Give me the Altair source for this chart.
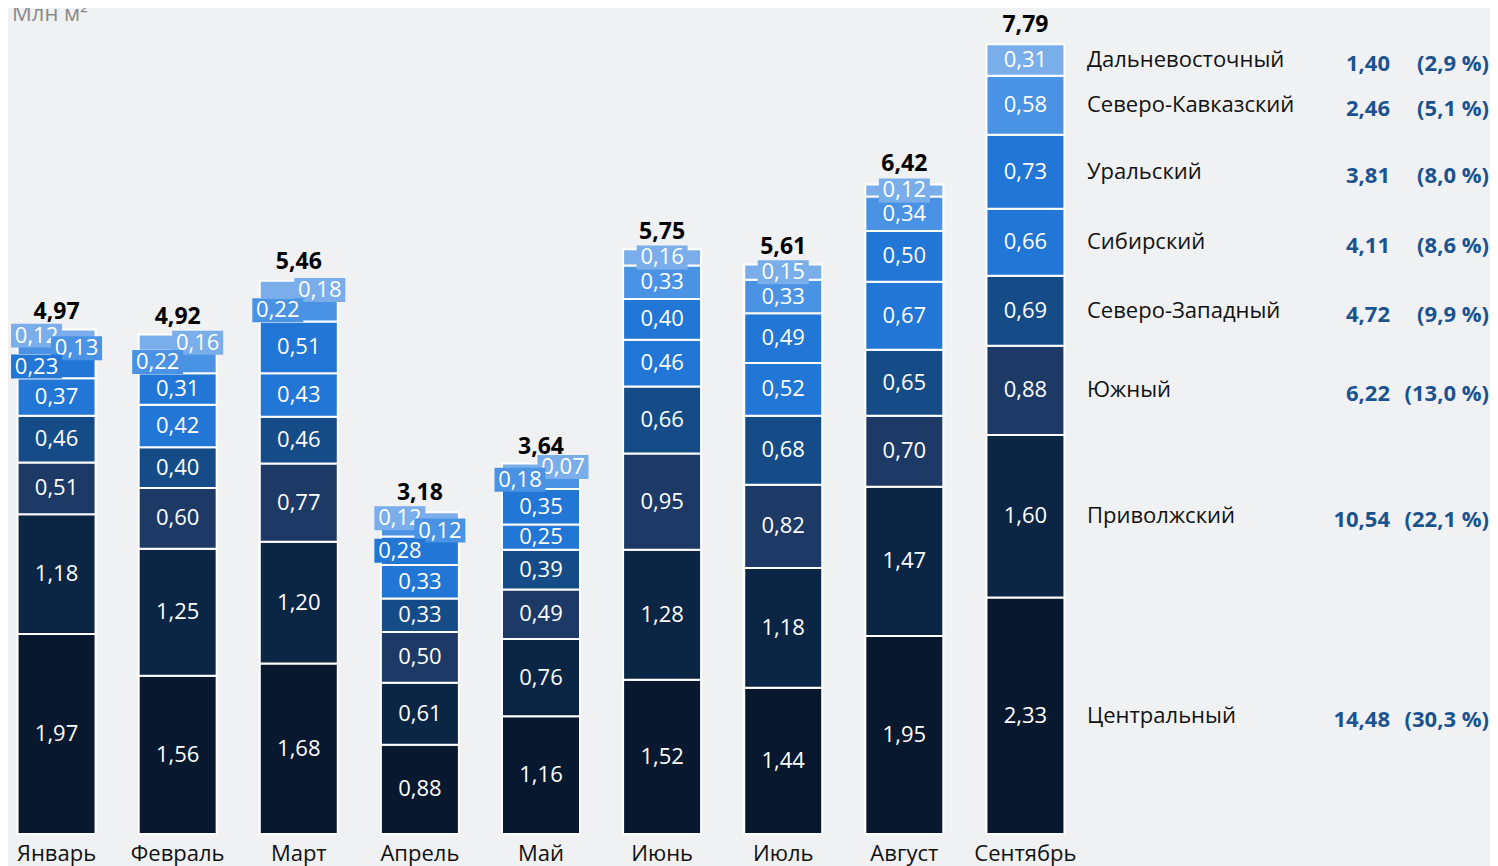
import altair as alt
import pandas as pd

MONTHS = ["Январь", "Февраль", "Март", "Апрель", "Май", "Июнь", "Июль", "Август", "Сентябрь"]
REGIONS = ["Центральный", "Приволжский", "Южный", "Северо-Западный", "Сибирский",
           "Уральский", "Северо-Кавказский", "Дальневосточный"]
COLORS = ["#08182E", "#0B2545", "#1D3966", "#154C88", "#2176D6", "#2176D6", "#4A93E4", "#7AAEEB"]

CENTRAL = [1.97, 1.56, 1.68, 0.88, 1.16, 1.52, 1.44, 1.95, 2.33]
VOLGA = [1.18, 1.25, 1.20, 0.61, 0.76, 1.28, 1.18, 1.47, 1.60]
SOUTH = [0.51, 0.60, 0.77, 0.50, 0.49, 0.95, 0.82, 0.70, 0.88]
NORTHWEST = [0.46, 0.40, 0.46, 0.33, 0.39, 0.66, 0.68, 0.65, 0.69]
SIBERIA = [0.37, 0.42, 0.43, 0.33, 0.25, 0.46, 0.52, 0.67, 0.66]
URAL = [0.23, 0.31, 0.51, 0.28, 0.35, 0.40, 0.49, 0.50, 0.73]
NCAUCASUS = [0.13, 0.22, 0.22, 0.12, 0.18, 0.33, 0.33, 0.34, 0.58]
FAREAST = [0.12, 0.16, 0.18, 0.12, 0.07, 0.16, 0.15, 0.12, 0.31]

TOTALS = [4.97, 4.92, 5.46, 3.18, 3.64, 5.75, 5.61, 6.42, 7.79]
REGION_TOTALS = [14.48, 10.54, 6.22, 4.72, 4.11, 3.81, 2.46, 1.40]
REGION_SHARES = [30.3, 22.1, 13.0, 9.9, 8.6, 8.0, 5.1, 2.9]

SERIES = [CENTRAL, VOLGA, SOUTH, NORTHWEST, SIBERIA, URAL, NCAUCASUS, FAREAST]

# small-segment labels drawn in a coloured box (horizontal shift in px)
BOXED = {
    ("Январь", "Дальневосточный"): -20, ("Январь", "Северо-Кавказский"): 20, ("Январь", "Уральский"): -20,
    ("Февраль", "Северо-Кавказский"): -20, ("Февраль", "Дальневосточный"): 20,
    ("Март", "Северо-Кавказский"): -21, ("Март", "Дальневосточный"): 21,
    ("Апрель", "Дальневосточный"): -20, ("Апрель", "Северо-Кавказский"): 20, ("Апрель", "Уральский"): -20,
    ("Май", "Северо-Кавказский"): -21, ("Май", "Дальневосточный"): 22,
    ("Июнь", "Дальневосточный"): 0, ("Июль", "Дальневосточный"): 0, ("Август", "Дальневосточный"): 0,
}
HALF_BAND = 39


def fmt(v, d=2):
    return f"{v:.{d}f}".replace(".", ",")


rows = []
for mi, m in enumerate(MONTHS):
    base = 0.0
    for r, s in zip(REGIONS, SERIES):
        v = s[mi]
        key = (m, r)
        rows.append(dict(month=m, region=r, value=v, y0=base, y1=base + v, mid=base + v / 2,
                         label=fmt(v), boxed=key in BOXED, xo=BOXED.get(key, 0) + HALF_BAND))
        base += v
df = pd.DataFrame(rows)

tot_df = pd.DataFrame({"month": MONTHS, "total": TOTALS, "label": [fmt(t) for t in TOTALS]})

sep = df[df["month"] == "Сентябрь"]
leg_df = pd.DataFrame({
    "region": REGIONS,
    "mid": list(sep["mid"]),
    "val": [fmt(v) for v in REGION_TOTALS],
    "pct": ["(" + fmt(p, 1) + " %)" for p in REGION_SHARES],
})

FONT = "Open Sans"
H = 826
YMAX = H / 101.5

x_enc = alt.X("month:N", sort=MONTHS,
              scale=alt.Scale(domain=MONTHS, range=[0, 1066], paddingInner=0.356, paddingOuter=0.079),
              axis=alt.Axis(title=None, domain=False, ticks=False, labelAngle=0, labelFontSize=22,
                            labelColor="#111111", labelFont=FONT, labelPadding=9))
y_scale = alt.Scale(domain=[0, YMAX], nice=False, zero=True)
color_enc = alt.Color("region:N", scale=alt.Scale(domain=REGIONS, range=COLORS), legend=None)

bars = alt.Chart(df).mark_bar(stroke="white", strokeWidth=2).encode(
    x=x_enc,
    y=alt.Y("y1:Q", scale=y_scale, axis=None),
    y2="y0:Q",
    color=color_enc,
)

plain = alt.Chart(df).transform_filter("!datum.boxed").mark_text(
    color="white", fontSize=22, font=FONT, baseline="middle").encode(
    x=x_enc, y=alt.Y("mid:Q", scale=y_scale), text="label:N")

layers = [bars, plain]
for reg in ["Дальневосточный", "Северо-Кавказский", "Уральский"]:
    sub = alt.Chart(df).transform_filter(
        f"datum.boxed && datum.region == '{reg}'")
    box = sub.mark_point(shape="M-1,-0.47H1V0.47H-1Z", filled=True, opacity=1, size=51 ** 2,
                         strokeWidth=0).encode(
        x=x_enc, y=alt.Y("mid:Q", scale=y_scale),
        xOffset=alt.XOffset("xo:Q", scale=None), color=color_enc)
    txt = sub.mark_text(color="white", fontSize=22, font=FONT, baseline="middle").encode(
        x=x_enc, y=alt.Y("mid:Q", scale=y_scale),
        xOffset=alt.XOffset("xo:Q", scale=None), text="label:N")
    layers += [box, txt]

totals = alt.Chart(tot_df).mark_text(fontSize=23, font=FONT, fontWeight="bold", color="#000000",
                                     baseline="alphabetic", dy=-11).encode(
    x=x_enc, y=alt.Y("total:Q", scale=y_scale), text="label:N")

leg_names = alt.Chart(leg_df).mark_text(fontSize=22, font=FONT, color="#111111", align="left",
                                        baseline="middle").encode(
    x=alt.value(1079), y=alt.Y("mid:Q", scale=y_scale), text="region:N")
leg_vals = alt.Chart(leg_df).mark_text(fontSize=22, font=FONT, fontWeight="bold", color="#1A5490",
                                       align="right", baseline="middle", dy=4).encode(
    x=alt.value(1382), y=alt.Y("mid:Q", scale=y_scale), text="val:N")
leg_pcts = alt.Chart(leg_df).mark_text(fontSize=22, font=FONT, fontWeight="bold", color="#1A5490",
                                       align="right", baseline="middle", dy=4).encode(
    x=alt.value(1481), y=alt.Y("mid:Q", scale=y_scale), text="pct:N")

title = alt.Chart(pd.DataFrame({"t": ["Млн м²"]})).mark_text(
    fontSize=22, font=FONT, color="#8A8A8A", align="left", baseline="alphabetic").encode(
    x=alt.value(4), y=alt.value(13), text="t:N")

layers += [totals, leg_names, leg_vals, leg_pcts, title]

chart = alt.layer(*layers).properties(
    width=1482, height=H,
    autosize=alt.AutoSizeParams(type="none"),
    padding={"left": 0, "top": 0, "right": 0, "bottom": 40},
).configure(background="#F0F1F3").configure_view(stroke=None)

chart.save("out.html", embed_options={"renderer": "svg", "actions": False})
